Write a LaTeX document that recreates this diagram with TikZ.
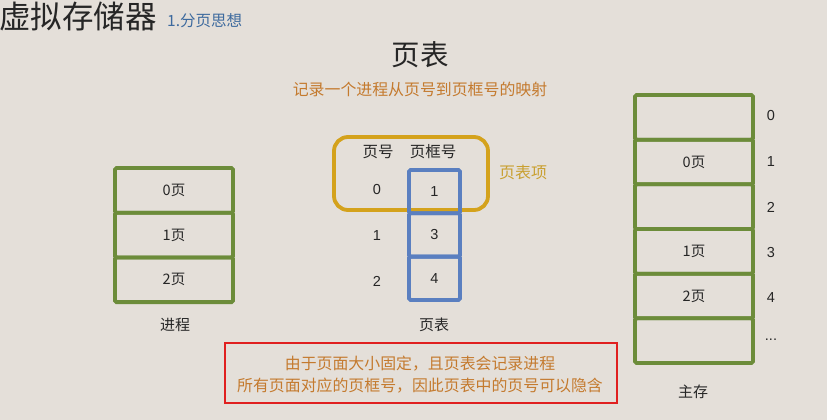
\documentclass[tikz,border=0pt]{standalone}
\usepackage{fontspec}
\setmainfont{Noto Sans CJK SC}
\newfontfamily\digitfont{Liberation Sans}
\definecolor{bg}{HTML}{E4DFD9}
\definecolor{ink}{HTML}{262626}
\definecolor{titleblue}{HTML}{3D6A9E}
\definecolor{note}{HTML}{C47A2E}
\definecolor{goldline}{HTML}{D4A21C}
\definecolor{goldtext}{HTML}{C9A030}
\definecolor{cellgreen}{HTML}{6C8C3A}
\definecolor{cellblue}{HTML}{5A7FC0}
\definecolor{boxred}{HTML}{E02020}
\begin{document}
\begin{tikzpicture}[x=1pt,y=-1pt,
  fs/.style={font=\fontsize{#1}{#1}\selectfont},
  txt/.style={inner sep=0, text=ink},
  num/.style={txt, font=\fontsize{14.5}{14.5}\selectfont\digitfont},
  gcell/.style={draw=cellgreen, line width=3.8pt, minimum width=118pt, minimum height=44.7pt, inner sep=0, rounded corners=1.5pt, text=ink, fs=14.5},
  mcell/.style={gcell, minimum height=44.67pt},
  bcell/.style={draw=cellblue, line width=3.8pt, minimum width=51pt, minimum height=43.3pt, inner sep=0, rounded corners=1.5pt, text=ink, font=\fontsize{14.5}{14.5}\selectfont\digitfont},
]
\useasboundingbox (0,0) rectangle (827,420);
\fill[bg] (0,0) rectangle (827,420);

% titles
\node[txt, anchor=west, fs=31.5] (title) at (-1,16) {虚拟存储器};
\node[txt, anchor=west, text=titleblue, fs=15.5] (sub) at (167,21) {1.分页思想};
\node[txt, fs=28.5] (pt) at (420,55) {页表};
\node[txt, text=note, fs=15.9] (ptdesc) at (420,89) {记录一个进程从页号到页框号的映射};

% process
\node[gcell] (p0) at (174,190.35) {0页};
\node[gcell] (p1) at (174,235.05) {1页};
\node[gcell] (p2) at (174,279.75) {2页};
\node[txt, fs=15] (plabel) at (175,325) {进程};

% page table
\node[txt, fs=15.5] (h1) at (378,152) {页号};
\node[txt, fs=15.5] (h2) at (433,152) {页框号};
\node[draw=goldline, line width=3.8pt, rounded corners=14pt, minimum width=154pt, minimum height=73pt, inner sep=0] (entry) at (411,173.5) {};
\node[bcell] (f0) at (434.5,191.65) {1};
\node[bcell] (f1) at (434.5,234.95) {3};
\node[bcell] (f2) at (434.5,278.25) {4};
\node[num] (r0) at (377,190) {0};
\node[num] (r1) at (377,236) {1};
\node[num] (r2) at (377,281) {2};
\node[txt, text=goldtext, fs=16] (entrylabel) at (523,172) {页表项};
\node[txt, fs=15] (tlabel) at (434,325) {页表};

% main memory
\node[mcell] (m0) at (694,117.33) {};
\node[mcell] (m1) at (694,162) {0页};
\node[mcell] (m2) at (694,206.67) {};
\node[mcell] (m3) at (694,251.33) {1页};
\node[mcell] (m4) at (694,296) {2页};
\node[mcell] (m5) at (694,340.67) {};
\node[num] (n0) at (771,116) {0};
\node[num] (n1) at (771,162) {1};
\node[num] (n2) at (771,207) {2};
\node[num] (n3) at (771,253) {3};
\node[num] (n4) at (771,298) {4};
\node[num] (n5) at (771,340) {...};
\node[txt, fs=15] (mlabel) at (693,392) {主存};

% note
\node[draw=boxred, line width=1.2pt, minimum width=392pt, minimum height=60pt, inner sep=0] (notebox) at (421,373) {};
\node[txt, text=note, fs=15.9, align=center] (notetext) at (420,374.5) {由于页面大小固定，且页表会记录进程\\[6pt]所有页面对应的页框号，因此页表中的页号可以隐含};
\end{tikzpicture}
\end{document}
